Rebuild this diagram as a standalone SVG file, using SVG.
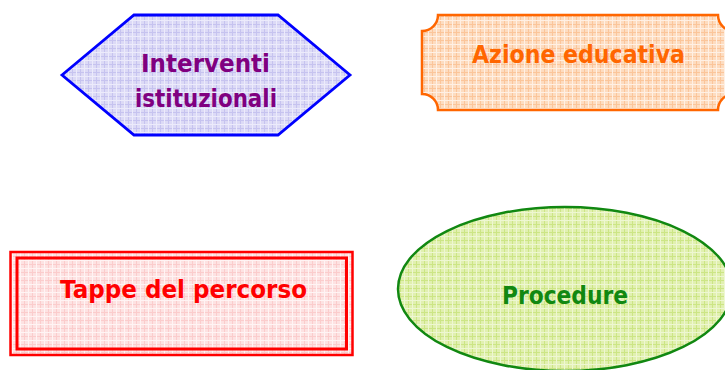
<svg xmlns="http://www.w3.org/2000/svg" width="725" height="370" viewBox="0 0 725 370">
  <defs>
    <pattern id="gBlue" width="8" height="8" patternUnits="userSpaceOnUse">
      <rect width="8" height="8" fill="#dcdaf6"/>
      <path d="M0 0.5H8M0.5 0V8" stroke="#c6c3ef" stroke-width="1"/>
      <path d="M0 4.5H8M4.5 0V8" stroke="#ecebfb" stroke-width="1"/>
    </pattern>
    <pattern id="gOrange" width="8" height="8" patternUnits="userSpaceOnUse">
      <rect width="8" height="8" fill="#fddcc0"/>
      <path d="M0 0.5H8M0.5 0V8" stroke="#fbc59a" stroke-width="1"/>
      <path d="M0 4.5H8M4.5 0V8" stroke="#fff0e4" stroke-width="1"/>
    </pattern>
    <pattern id="gRed" width="8" height="8" patternUnits="userSpaceOnUse">
      <rect width="8" height="8" fill="#fde2e2"/>
      <path d="M0 0.5H8M0.5 0V8" stroke="#fbcccc" stroke-width="1"/>
      <path d="M0 4.5H8M4.5 0V8" stroke="#fff4f4" stroke-width="1"/>
    </pattern>
    <pattern id="gGreen" width="8" height="8" patternUnits="userSpaceOnUse">
      <rect width="8" height="8" fill="#e1f0b0"/>
      <path d="M0 0.5H8M0.5 0V8" stroke="#cce585" stroke-width="1"/>
      <path d="M0 4.5H8M4.5 0V8" stroke="#eef7d2" stroke-width="1"/>
    </pattern>
  </defs>
  <style>
    text { font-family: "DejaVu Sans", "Liberation Sans", sans-serif; font-weight: bold; font-size: 25px; text-anchor: middle; }
  </style>
  <rect width="725" height="370" fill="#ffffff"/>
  <g id="connectors"></g>
  <g id="interventi">
    <polygon points="62,75 134,15 278,15 350,75 278,135 134,135" fill="url(#gBlue)" stroke="#0000ff" stroke-width="2.8" stroke-linejoin="miter"/>
    <text x="205.5" y="72" fill="#800080" textLength="129" lengthAdjust="spacingAndGlyphs">Interventi</text>
    <text x="206" y="107" fill="#800080" textLength="142" lengthAdjust="spacingAndGlyphs">istituzionali</text>
  </g>
  <g id="azione">
    <path d="M438,15 H718 A16,16 0 0 0 734,31 V94 A16,16 0 0 0 718,110 H438 A16,16 0 0 0 422,94 V31 A16,16 0 0 0 438,15 Z" fill="url(#gOrange)" stroke="#ff6600" stroke-width="2.5"/>
    <text x="578.5" y="63" fill="#ff6600" textLength="213" lengthAdjust="spacingAndGlyphs">Azione educativa</text>
  </g>
  <g id="tappe">
    <rect x="10.5" y="252" width="342" height="103" fill="url(#gRed)" stroke="#ff0000" stroke-width="2.5"/>
    <rect x="17" y="258" width="329.5" height="91" fill="none" stroke="#ff0000" stroke-width="3"/>
    <text x="183.5" y="298" fill="#ff0000" textLength="247" lengthAdjust="spacingAndGlyphs">Tappe del percorso</text>
  </g>
  <g id="procedure">
    <ellipse cx="565" cy="289" rx="167" ry="82" fill="url(#gGreen)" stroke="#118811" stroke-width="2.5"/>
    <text x="565" y="304" fill="#118811" textLength="126" lengthAdjust="spacingAndGlyphs">Procedure</text>
  </g>
</svg>
